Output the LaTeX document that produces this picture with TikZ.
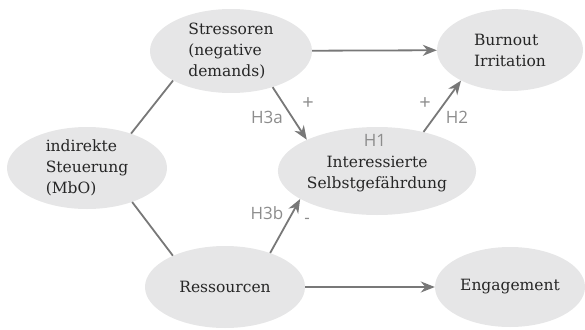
\documentclass[tikz,border=0pt]{standalone}
\usepackage{fontspec}
\newfontfamily\lab{Open Sans}
\newfontfamily\nodefont{DejaVu Serif}
\usetikzlibrary{shapes.geometric,arrows.meta}
\definecolor{ellfill}{HTML}{E6E6E7}
\definecolor{linegray}{HTML}{787878}
\definecolor{labgray}{HTML}{8C8C8C}
\begin{document}
\begin{tikzpicture}[x=1pt,y=-1pt,
  ell/.style={ellipse,fill=ellfill,inner sep=0pt,align=left,
    font=\nodefont\fontsize{15.5}{21}\selectfont,text=black!85},
  conn/.style={draw=linegray,line width=1.8pt},
  arr/.style={conn,-{Stealth[length=14pt,width=11pt,inset=4.5pt]},color=linegray},
  hlab/.style={font=\lab\fontsize{17}{19}\selectfont,text=labgray,inner sep=0pt},
  slab/.style={hlab,font=\lab\fontsize{20}{22}\selectfont}]
\useasboundingbox (0,0) rectangle (585,329);
\node[ell,minimum width=162pt,minimum height=84pt] (s) at (231,51) {Stressoren\\(negative\\demands)};
\node[ell,minimum width=146pt,minimum height=82pt] (b) at (510,50) {Burnout\\Irritation};
\node[ell,minimum width=160pt,minimum height=82pt] (st) at (87,168) {indirekte\\Steuerung\\(MbO)};
\node[ell,minimum width=166pt,minimum height=88pt,align=center] (i) at (377,171) {\\[-4pt]Interessierte\\Selbstgefährdung};
\node[ell,minimum width=160pt,minimum height=82pt] (r) at (225,287) {Ressourcen};
\node[ell,minimum width=150pt,minimum height=80pt] (e) at (510,287) {Engagement};
\draw[arr] (s) -- (b);
\draw[arr] (r) -- (e);
\draw[arr] (s.-41) -- (i.156);
\draw[arr] (i.40) -- (b.212);
\draw[arr] (r.37) -- (i.200);
\draw[conn] (st.38) -- (s.207);
\draw[conn] (st.-37) -- (r.149);
\node[hlab] (h3a) at (267,117) {H3a};
\node[slab] (p1) at (308,104) {+};
\node[slab] (p2) at (425,104) {+};
\node[hlab] (h2) at (457,117) {H2};
\node[hlab] (h1) at (375,140) {H1};
\node[hlab] (h3b) at (267,213) {H3b};
\node[hlab] (m) at (307,221) {-};
\end{tikzpicture}
\end{document}
